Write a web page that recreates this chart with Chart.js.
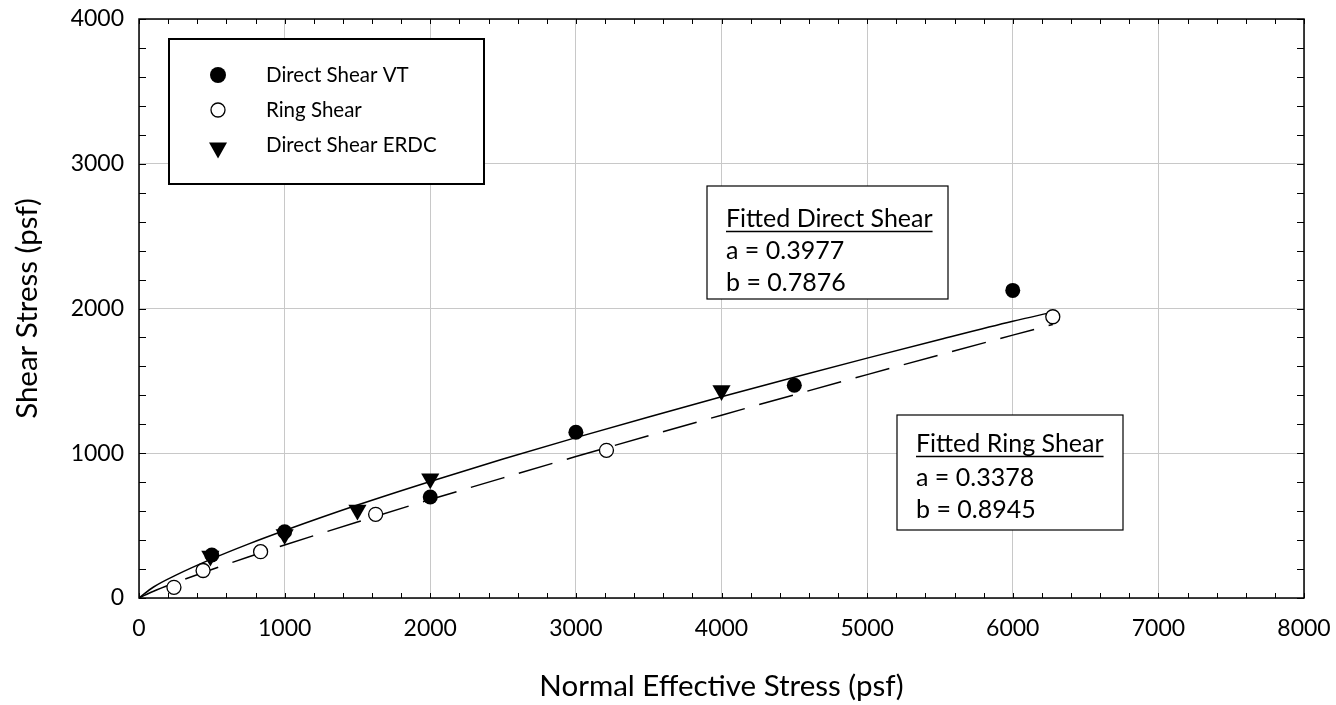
<!DOCTYPE html>
<html>
<head>
<meta charset="utf-8">
<script src="https://cdn.jsdelivr.net/npm/chart.js@4.4.1/dist/chart.umd.min.js"></script>
<style>
  html, body { margin: 0; padding: 0; background: #fff; }
  #wrap { width: 1336px; height: 705px; }
</style>
</head>
<body>
<div id="wrap"><canvas id="shear-chart"></canvas></div>
<script>
const FONT = 'Lato, "Open Sans", sans-serif';

// measured points (psf)
const vtNormal = [500, 1000, 2000, 3000, 4500, 6000];
const vtShear = [297, 458, 698, 1145, 1470, 2125];

const ringNormal = [240, 440, 835, 1625, 3210, 6275];
const ringShear = [74, 190, 320, 578, 1020, 1943];

const erdcNormal = [490, 1000, 1500, 2000, 4000];
const erdcShear = [290, 438, 608, 824, 1434];

// fitted curves
const fitNormal = [0, 100, 250, 500, 750, 1000, 1500, 2000, 2500, 3000, 3500, 4000, 4500, 5000, 5500, 6000, 6275];
const fitDirect = [0, 76, 156, 270, 372, 466, 642, 805, 960, 1108, 1251, 1390, 1525, 1657, 1786, 1912, 1975];
const fitRing = [0, 47, 106, 197, 283, 366, 525, 680, 830, 977, 1121, 1263, 1404, 1543, 1680, 1816, 1890];

const xMax = 8000;
const yMax = 4000;
const majorStep = 1000;
const minorStep = 200;

const legendItems = ['Direct Shear VT', 'Ring Shear', 'Direct Shear ERDC'];
const directNote = ['Fitted Direct Shear', 'a = 0.3977', 'b = 0.7876'];
const ringNote = ['Fitted Ring Shear', 'a = 0.3378', 'b = 0.8945'];

const toPoints = (xs, ys) => xs.map((x, i) => ({ x, y: ys[i] }));

function drawMarker(ctx, kind, x, y) {
  ctx.save();
  ctx.beginPath();
  if (kind === 'filled') {
    ctx.arc(x, y, 8, 0, Math.PI * 2);
    ctx.fillStyle = '#000';
    ctx.fill();
  } else if (kind === 'open') {
    ctx.arc(x, y, 7, 0, Math.PI * 2);
    ctx.fillStyle = '#fff';
    ctx.fill();
    ctx.lineWidth = 1.3;
    ctx.strokeStyle = '#000';
    ctx.stroke();
  } else {
    ctx.moveTo(x - 9, y - 7.5);
    ctx.lineTo(x + 9, y - 7.5);
    ctx.lineTo(x, y + 8.5);
    ctx.closePath();
    ctx.fillStyle = '#000';
    ctx.fill();
  }
  ctx.restore();
}

function drawNote(ctx, lines, box, textX, rowYs) {
  ctx.save();
  ctx.fillStyle = '#fff';
  ctx.fillRect(box.x, box.y, box.w, box.h);
  ctx.lineWidth = 1.2;
  ctx.strokeStyle = '#000';
  ctx.strokeRect(box.x, box.y, box.w, box.h);
  ctx.font = '25px ' + FONT;
  ctx.fillStyle = '#000';
  ctx.textBaseline = 'middle';
  ctx.textAlign = 'left';
  lines.forEach((t, i) => ctx.fillText(t, textX, rowYs[i]));
  const w = ctx.measureText(lines[0]).width;
  ctx.beginPath();
  ctx.lineWidth = 1.4;
  ctx.moveTo(textX, rowYs[0] + 12.5);
  ctx.lineTo(textX + w, rowYs[0] + 12.5);
  ctx.stroke();
  ctx.restore();
}

const decorations = {
  id: 'decorations',
  afterDraw(chart) {
    const { ctx, chartArea: a, scales: { x, y } } = chart;
    ctx.save();
    ctx.strokeStyle = '#000';
    ctx.lineWidth = 1;
    ctx.beginPath();
    for (let v = 0; v <= xMax; v += minorStep) {
      const px = Math.round(x.getPixelForValue(v)) + 0.5;
      ctx.moveTo(px, a.bottom); ctx.lineTo(px, a.bottom - 5);
      ctx.moveTo(px, a.top); ctx.lineTo(px, a.top + 5);
    }
    for (let v = 0; v <= yMax; v += minorStep) {
      const py = Math.round(y.getPixelForValue(v)) + 0.5;
      ctx.moveTo(a.left, py); ctx.lineTo(a.left + 7, py);
      ctx.moveTo(a.right, py); ctx.lineTo(a.right - 7, py);
    }
    ctx.stroke();
    ctx.lineWidth = 1.5;
    ctx.strokeRect(a.left, a.top, a.right - a.left, a.bottom - a.top);
    ctx.restore();

    // legend box
    ctx.save();
    ctx.fillStyle = '#fff';
    ctx.fillRect(169, 39, 315, 145);
    ctx.lineWidth = 2;
    ctx.strokeStyle = '#000';
    ctx.strokeRect(169, 39, 315, 145);
    const rows = [75, 110, 145];
    ['filled', 'open', 'tri'].forEach((k, i) => drawMarker(ctx, k, 218, rows[i] + (k === 'tri' ? 5 : 0)));
    ctx.font = '20.5px ' + FONT;
    ctx.fillStyle = '#000';
    ctx.textBaseline = 'middle';
    legendItems.forEach((t, i) => ctx.fillText(t, 266, rows[i]));
    ctx.restore();

    drawNote(ctx, directNote, { x: 707, y: 186, w: 241, h: 113 }, 726, [219, 251, 283]);
    drawNote(ctx, ringNote, { x: 897, y: 415, w: 226, h: 115 }, 916, [444, 478, 510]);
  }
};

const ctx = document.getElementById('shear-chart').getContext('2d');

new Chart(ctx, {
  type: 'scatter',
  data: {
    datasets: [
      {
        label: legendItems[0],
        data: toPoints(vtNormal, vtShear),
        pointStyle: 'circle',
        pointRadius: 7.5,
        pointBackgroundColor: '#000',
        pointBorderWidth: 0
      },
      {
        label: legendItems[2],
        data: toPoints(erdcNormal, erdcShear),
        pointStyle: 'triangle',
        pointRotation: 180,
        pointRadius: 10.5,
        pointBackgroundColor: '#000',
        pointBorderWidth: 0
      },
      {
        label: legendItems[1],
        data: toPoints(ringNormal, ringShear),
        pointStyle: 'circle',
        pointRadius: 7,
        pointBackgroundColor: '#fff',
        pointBorderColor: '#000',
        pointBorderWidth: 1.3
      },
      {
        label: 'Fitted Direct Shear',
        data: toPoints(fitNormal, fitDirect),
        showLine: true,
        borderColor: '#000',
        borderWidth: 1.5,
        pointRadius: 0,
        cubicInterpolationMode: 'monotone'
      },
      {
        label: 'Fitted Ring Shear',
        data: toPoints(fitNormal, fitRing),
        showLine: true,
        borderColor: '#000',
        borderWidth: 1.5,
        borderDash: [35, 15],
        pointRadius: 0,
        cubicInterpolationMode: 'monotone'
      }
    ]
  },
  options: {
    responsive: true,
    maintainAspectRatio: false,
    animation: false,
    layout: { padding: { top: 19, right: 32, left: 0, bottom: 0 } },
    plugins: {
      legend: { display: false },
      tooltip: { enabled: false }
    },
    scales: {
      x: {
        type: 'linear',
        min: 0,
        max: xMax,
        ticks: {
          stepSize: majorStep,
          color: '#000',
          font: { family: FONT, size: 23 },
          padding: 17,
          maxRotation: 0,
          callback: (v) => String(v)
        },
        grid: { color: '#c8c8c8', lineWidth: 1, drawTicks: false },
        border: { display: false },
        title: {
          display: true,
          text: 'Normal Effective Stress (psf)',
          color: '#000',
          font: { family: FONT, size: 29.5 },
          padding: { top: 0, bottom: 1 }
        },
        afterFit: (scale) => {
          scale.height = 107;
          scale.paddingLeft = 0;
          scale.paddingRight = 0;
        }
      },
      y: {
        type: 'linear',
        min: 0,
        max: yMax,
        ticks: {
          stepSize: majorStep,
          color: '#000',
          font: { family: FONT, size: 23 },
          padding: 15,
          callback: (v) => String(v)
        },
        grid: { color: '#c8c8c8', lineWidth: 1, drawTicks: false },
        border: { display: false },
        title: {
          display: true,
          text: 'Shear Stress (psf)',
          color: '#000',
          font: { family: FONT, size: 29.5 },
          padding: { top: 10, bottom: 0 }
        },
        afterFit: (scale) => {
          scale.width = 139;
          scale.paddingTop = 0;
          scale.paddingBottom = 0;
        }
      }
    }
  },
  plugins: [decorations]
});
</script>
</body>
</html>
